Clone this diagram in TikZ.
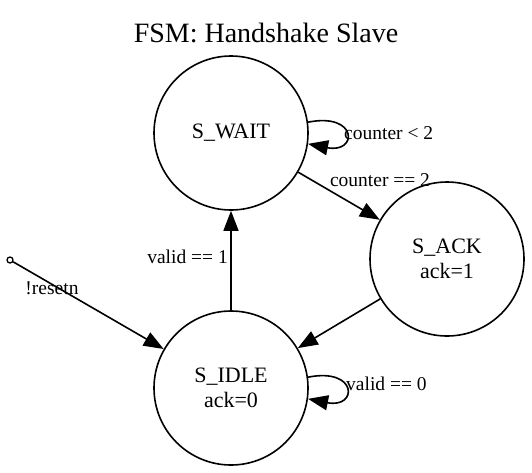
\documentclass[tikz,border=0pt]{standalone}
\usepackage{fontspec}
\setmainfont{Liberation Serif}
\usetikzlibrary{arrows.meta}
\tikzset{
  >={Triangle[length=20pt,width=15pt]},
  state/.style={circle, draw, line width=1.6pt, minimum size=154pt, inner sep=0pt,
    align=center, font=\fontsize{22}{25}\selectfont},
  edge/.style={->, line width=1.6pt},
  elabel/.style={font=\fontsize{19.5}{22}\selectfont, inner sep=1pt}
}

\begin{document}
\begin{tikzpicture}[x=1pt,y=-1pt]
\useasboundingbox (0,0) rectangle (532,472);

% Title
\node[font=\fontsize{28}{32}\selectfont] (title) at (266,33) {FSM: Handshake Slave};

% States
\node[state] (wait) at (231,133) {S\_WAIT};
\node[state] (ack) at (447,259) {S\_ACK\\ack=1};
\node[state] (idle) at (231,388) {S\_IDLE\\ack=0};
\node[circle, draw, line width=1.3pt, minimum size=6pt, inner sep=0pt] (start) at (10,260) {};

% Transitions
\draw[edge] (start) -- (idle);
\node[elabel] (lreset) at (52,288) {!resetn};
\draw[edge] (idle) -- (wait);
\node[elabel, anchor=east] (lvalid1) at (229,257) {valid == 1};
\draw[edge] (wait) -- (ack);
\node[elabel] (lcnt2) at (380,180) {counter == 2};
\draw[edge] (ack) -- (idle);

% Self loops
\draw[edge] (wait.8) .. controls +(50,-10) and +(50,10) .. (wait.-8);
\node[elabel, anchor=west] (lcntlt) at (343,133) {counter < 2};
\draw[edge] (idle.8) .. controls +(50,-10) and +(50,10) .. (idle.-8);
\node[elabel, anchor=west] (lvalid0) at (345,384) {valid == 0};

\end{tikzpicture}
\end{document}
